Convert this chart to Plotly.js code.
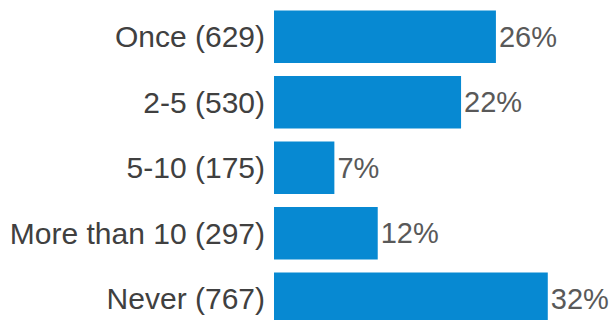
<!DOCTYPE html>
<html>
<head>
<meta charset="utf-8">
<script src="https://cdn.plot.ly/plotly-3.0.1.min.js"></script>
<style>html,body{margin:0;padding:0;background:#fff;}#chart{width:609px;height:320px;}</style>
</head>
<body>
<div id="chart"></div>
<script>
const categories = ["Once (629)", "2-5 (530)", "5-10 (175)", "More than 10 (297)", "Never (767)"];
const percents = [26.1, 22.0, 7.1, 12.2, 32.2];
const percentLabels = ["26%", "22%", "7%", "12%", "32%"];

const trace = {
  type: "bar",
  orientation: "h",
  y: categories,
  x: percents,
  text: percentLabels,
  textposition: "outside",
  cliponaxis: false,
  textfont: {family: "Liberation Sans, Arial, sans-serif", size: 29, color: "#595959"},
  marker: {color: "#0789d2", line: {width: 0}},
  hoverinfo: "none"
};

const layout = {
  width: 609,
  height: 320,
  margin: {l: 274, r: 0, t: 4, b: 0, pad: 0},
  paper_bgcolor: "#ffffff",
  plot_bgcolor: "#ffffff",
  bargap: 0.2,
  showlegend: false,
  xaxis: {range: [0, 39.4], visible: false, fixedrange: true},
  yaxis: {
    type: "category",
    categoryorder: "array",
    categoryarray: categories,
    range: [4.324, -0.5],
    showgrid: false,
    zeroline: false,
    showline: false,
    ticks: "",
    ticklabelstandoff: 8,
    automargin: false,
    tickfont: {family: "Liberation Sans, Arial, sans-serif", size: 30, color: "#404040"},
    fixedrange: true
  }
};

Plotly.newPlot("chart", [trace], layout, {displayModeBar: false, staticPlot: true});
</script>
</body>
</html>
